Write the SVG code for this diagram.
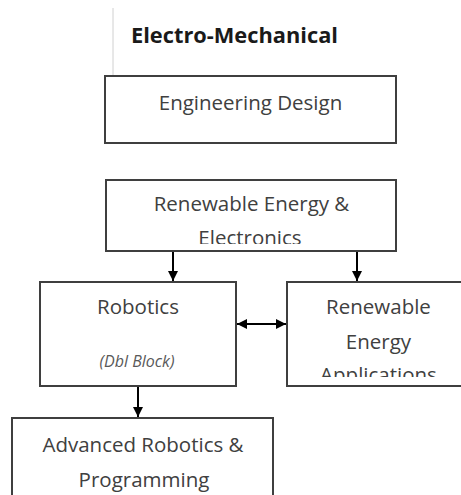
<svg xmlns="http://www.w3.org/2000/svg" width="461" height="495" viewBox="0 0 461 495">
<style>
.box{fill:#fff;stroke:#3f3f3f;stroke-width:2}
.t{font-family:"Open Sans","Liberation Sans",sans-serif;font-size:20.5px;fill:#404040;text-anchor:middle}
.ti{font-family:"Open Sans","Liberation Sans",sans-serif;font-size:16px;font-style:italic;fill:#595959;text-anchor:middle}
.title{font-family:"Open Sans","Liberation Sans",sans-serif;font-size:21.8px;font-weight:bold;fill:#1a1a1a}
.c{stroke:#000;stroke-width:2;fill:none}
</style>
<defs>
<marker id="ah" markerWidth="10" markerHeight="10" refX="10" refY="5" orient="auto" markerUnits="userSpaceOnUse">
<path d="M0,0 L10,5 L0,10 Z" fill="#000"/>
</marker>
<marker id="ahs" markerWidth="10" markerHeight="10" refX="0" refY="5" orient="auto" markerUnits="userSpaceOnUse">
<path d="M10,0 L0,5 L10,10 Z" fill="#000"/>
</marker>
<clipPath id="clipE"><rect x="106" y="180" width="290" height="64"/></clipPath>
<clipPath id="clipA"><rect x="287" y="282" width="180" height="95"/></clipPath>
</defs>
<line x1="113" y1="8" x2="113" y2="75" stroke="#d0d0d0" stroke-width="1"/>
<text class="title" x="131" y="43">Electro-Mechanical</text>
<g id="engineering-design">
<rect class="box" x="105" y="76" width="291" height="67"/>
<text class="t" x="250.5" y="110">Engineering Design</text>
</g>
<g id="renewable-electronics">
<rect class="box" x="106" y="180" width="290" height="71"/>
<text class="t" x="251.5" y="211">Renewable Energy &amp;</text>
<text class="t" x="250" y="245" clip-path="url(#clipE)">Electronics</text>
</g>
<g id="robotics">
<rect class="box" x="40" y="282" width="196" height="104"/>
<text class="t" x="138" y="314">Robotics</text>
<text class="ti" x="137" y="367">(Dbl Block)</text>
</g>
<g id="renewable-applications">
<rect class="box" x="287" y="282" width="190" height="104"/>
<text class="t" x="378.5" y="314">Renewable</text>
<text class="t" x="378.5" y="349">Energy</text>
<text class="t" x="378.5" y="382" clip-path="url(#clipA)">Applications</text>
</g>
<g id="advanced-robotics">
<rect class="box" x="12" y="418" width="261" height="90"/>
<text class="t" x="143" y="452">Advanced Robotics &amp;</text>
<text class="t" x="144" y="487">Programming</text>
</g>
<g id="connectors">
<line class="c" x1="173" y1="252" x2="173" y2="281" marker-end="url(#ah)"/>
<line class="c" x1="357" y1="252" x2="357" y2="281" marker-end="url(#ah)"/>
<line class="c" x1="237" y1="324" x2="286" y2="324" marker-start="url(#ahs)" marker-end="url(#ah)"/>
<line class="c" x1="138" y1="387" x2="138" y2="417" marker-end="url(#ah)"/>
</g>
</svg>
